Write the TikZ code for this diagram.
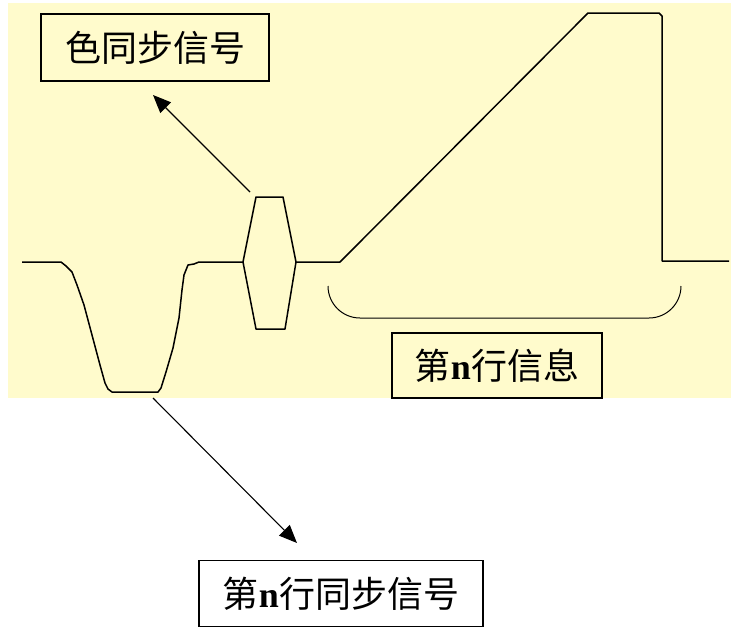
\documentclass[tikz,border=0pt]{standalone}
\usepackage{fontspec}
\setmainfont{Liberation Serif}
\newfontfamily\cjk{Noto Sans CJK SC}
\usetikzlibrary{arrows.meta}
\definecolor{paleyellow}{RGB}{255,251,204}
\tikzset{
  tagbox/.style={draw, line width=1.4pt, inner sep=0pt, font=\cjk\fontsize{36}{42}\selectfont},
  wave/.style={line width=1.5pt, line join=round},
  pointer/.style={line width=1.1pt, -{Triangle[length=18pt,width=15pt]}}
}

\begin{document}
\begin{tikzpicture}[x=1pt,y=-1pt]
  \useasboundingbox (0,0) rectangle (731,627);
  \fill[paleyellow] (8,3) rectangle (731,398);
  % line sync pulse
  \draw[wave] (22,262) -- (61,262) -- (66,266) -- (72,272) -- (77,285) -- (84,305) -- (92,335)
    -- (100,365) -- (105,383) -- (108,389) -- (112,392) -- (158,392) -- (161,388) -- (166,372)
    -- (173,348) -- (179,318) -- (182,290) -- (184,275) -- (188,265) -- (194,264) -- (199,262) -- (243,262);
  % colour burst
  \draw[wave] (243,262) -- (256,197) -- (283,197) -- (296,262) -- (285,329) -- (256,329) -- cycle;
  % picture content of line n
  \draw[wave] (296,262) -- (340,262) -- (346,256) -- (588,13) -- (659,13) -- (662,16) -- (662,261) -- (729,261);
  \draw[line width=1pt, rounded corners=32pt] (328,286) -- (328,318) -- (681,318) -- (681,286);
  \node[tagbox, minimum width=228pt, minimum height=67pt] (burstlbl) at (155,47.5) {色同步信号};
  \node[tagbox, minimum width=210pt, minimum height=65pt] (infolbl) at (497,365.5) {第{\rmfamily\bfseries n}行信息};
  \node[tagbox, minimum width=284pt, minimum height=66pt] (synclbl) at (341,593.5) {第{\rmfamily\bfseries n}行同步信号};
  \coordinate (burstfoot) at (250,192);
  \coordinate (bursttip) at (153,95);
  \coordinate (syncfoot) at (153,398);
  \coordinate (synctip) at (297,543);
  \draw[pointer] (burstfoot) -- (bursttip);
  \draw[pointer] (syncfoot) -- (synctip);
\end{tikzpicture}
\end{document}
